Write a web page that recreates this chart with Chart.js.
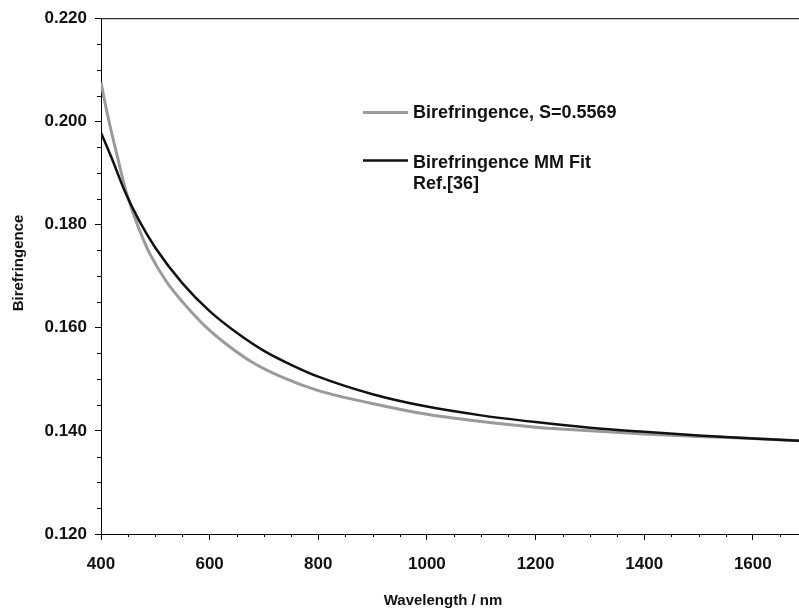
<!DOCTYPE html>
<html>
<head>
<meta charset="utf-8">
<script src="https://cdn.jsdelivr.net/npm/chart.js@4.4.1/dist/chart.umd.min.js"></script>
<style>
  html, body { margin: 0; padding: 0; background: #fff; }
  #wrap { width: 799px; height: 608px; }
</style>
</head>
<body>
<div id="wrap"><canvas id="c" width="799" height="608"></canvas></div>
<script>
// ---- data ----
const wavelengthMeasured = [400, 410, 420, 432, 444, 460, 477, 490, 520, 550, 582, 600, 632, 680, 729, 800, 895, 1000, 1100, 1200, 1300, 1400, 1500, 1600, 1685];
const birefringenceMeasured = [0.2075, 0.2023, 0.1976, 0.1924, 0.1872, 0.1820, 0.1773, 0.1743, 0.1690, 0.1650, 0.1613, 0.1595, 0.1567, 0.1532, 0.1506, 0.1478, 0.1454, 0.1432, 0.1418, 0.1407, 0.1400, 0.1394, 0.1389, 0.1385, 0.1381];

const wavelengthFit = [400, 420, 444, 470, 500, 550, 600, 650, 700, 750, 800, 900, 1000, 1100, 1200, 1300, 1400, 1500, 1600, 1685];
const birefringenceFit = [0.1978, 0.1928, 0.1864, 0.1808, 0.1755, 0.1686, 0.1632, 0.1590, 0.1555, 0.1528, 0.1505, 0.1471, 0.1447, 0.1430, 0.1417, 0.1406, 0.1398, 0.1391, 0.1385, 0.1381];

const xTickValues = [400, 600, 800, 1000, 1200, 1400, 1600];
const xMinorValues = [450, 500, 550, 650, 700, 750, 850, 900, 950, 1050, 1100, 1150, 1250, 1300, 1350, 1450, 1500, 1550, 1650];
const yTickValues = [0.120, 0.140, 0.160, 0.180, 0.200, 0.220];
const yMinorValues = [0.125, 0.130, 0.135, 0.145, 0.150, 0.155, 0.165, 0.170, 0.175, 0.185, 0.190, 0.195, 0.205, 0.210, 0.215];

const seriesLabels = ['Birefringence, S=0.5569', 'Birefringence MM Fit'];
const legendExtraLine = 'Ref.[36]';
const xTitle = 'Wavelength / nm';
const yTitle = 'Birefringence';

const toPoints = (xs, ys) => xs.map((x, i) => ({ x: x, y: ys[i] }));

const FONT = '"Liberation Sans", Arial, sans-serif';

const decorPlugin = {
  id: 'decor',
  afterDraw(chart) {
    const ctx = chart.ctx;
    const { left, top, right, bottom } = chart.chartArea;
    const xs = chart.scales.x, ys = chart.scales.y;
    ctx.save();
    ctx.strokeStyle = '#000';
    ctx.lineWidth = 1;
    // top frame line
    ctx.beginPath();
    ctx.moveTo(left, top + 0.5);
    ctx.lineTo(right, top + 0.5);
    ctx.stroke();
    // minor ticks
    ctx.beginPath();
    xMinorValues.forEach(v => {
      const px = Math.round(xs.getPixelForValue(v)) + 0.5;
      ctx.moveTo(px, bottom);
      ctx.lineTo(px, bottom + 3);
    });
    yMinorValues.forEach(v => {
      const py = Math.round(ys.getPixelForValue(v)) + 0.5;
      ctx.moveTo(left - 4, py);
      ctx.lineTo(left, py);
    });
    ctx.stroke();

    // legend
    const ds = chart.data.datasets;
    ctx.font = 'bold 18px ' + FONT;
    ctx.fillStyle = '#111';
    ctx.textBaseline = 'alphabetic';
    ctx.textAlign = 'left';
    const rows = [
      { lineY: 112.5, baseY: 118, ds: ds[0], text: [seriesLabels[0]] },
      { lineY: 160.5, baseY: 168, ds: ds[1], text: [seriesLabels[1], legendExtraLine] }
    ];
    rows.forEach(r => {
      ctx.strokeStyle = r.ds.borderColor;
      ctx.lineWidth = r.ds.borderWidth;
      ctx.beginPath();
      ctx.moveTo(363, r.lineY);
      ctx.lineTo(408, r.lineY);
      ctx.stroke();
      r.text.forEach((t, i) => ctx.fillText(t, 413, r.baseY + i * 21));
    });

    // axis titles
    ctx.fillStyle = '#111';
    ctx.font = 'bold 15px ' + FONT;
    ctx.textAlign = 'center';
    ctx.fillText(xTitle, 443, 605);
    ctx.save();
    ctx.translate(23, 263);
    ctx.rotate(-Math.PI / 2);
    ctx.fillText(yTitle, 0, 0);
    ctx.restore();
    ctx.restore();
  }
};

new Chart(document.getElementById('c'), {
  type: 'line',
  data: {
    datasets: [
      {
        label: seriesLabels[0],
        data: toPoints(wavelengthMeasured, birefringenceMeasured),
        borderColor: '#9a9a9a',
        borderWidth: 3,
        pointRadius: 0,
        cubicInterpolationMode: 'monotone',
        order: 2
      },
      {
        label: seriesLabels[1] + ' ' + legendExtraLine,
        data: toPoints(wavelengthFit, birefringenceFit),
        borderColor: '#111111',
        borderWidth: 2.5,
        pointRadius: 0,
        cubicInterpolationMode: 'monotone',
        order: 1
      }
    ]
  },
  options: {
    responsive: false,
    animation: false,
    devicePixelRatio: 1,
    layout: { padding: { top: 18, right: 0, left: 0, bottom: 0 } },
    plugins: { legend: { display: false }, tooltip: { enabled: false } },
    scales: {
      x: {
        type: 'linear',
        min: 400,
        max: 1685,
        afterBuildTicks: s => { s.ticks = xTickValues.map(v => ({ value: v })); },
        afterFit: s => { s.height = 74; },
        border: { color: '#000', width: 1 },
        grid: { drawOnChartArea: false, drawTicks: true, tickLength: 6, color: '#000' },
        ticks: {
          color: '#111',
          padding: 14,
          maxRotation: 0,
          font: { family: FONT, size: 17, weight: 'bold' },
          callback: v => String(v)
        }
      },
      y: {
        type: 'linear',
        min: 0.12,
        max: 0.22,
        afterBuildTicks: s => { s.ticks = yTickValues.map(v => ({ value: v })); },
        afterFit: s => { s.width = 101; },
        border: { color: '#000', width: 1 },
        grid: { drawOnChartArea: false, drawTicks: true, tickLength: 6, color: '#000' },
        ticks: {
          color: '#111',
          padding: 8,
          font: { family: FONT, size: 17, weight: 'bold' },
          callback: v => Number(v).toFixed(3)
        }
      }
    }
  },
  plugins: [decorPlugin]
});
</script>
</body>
</html>
